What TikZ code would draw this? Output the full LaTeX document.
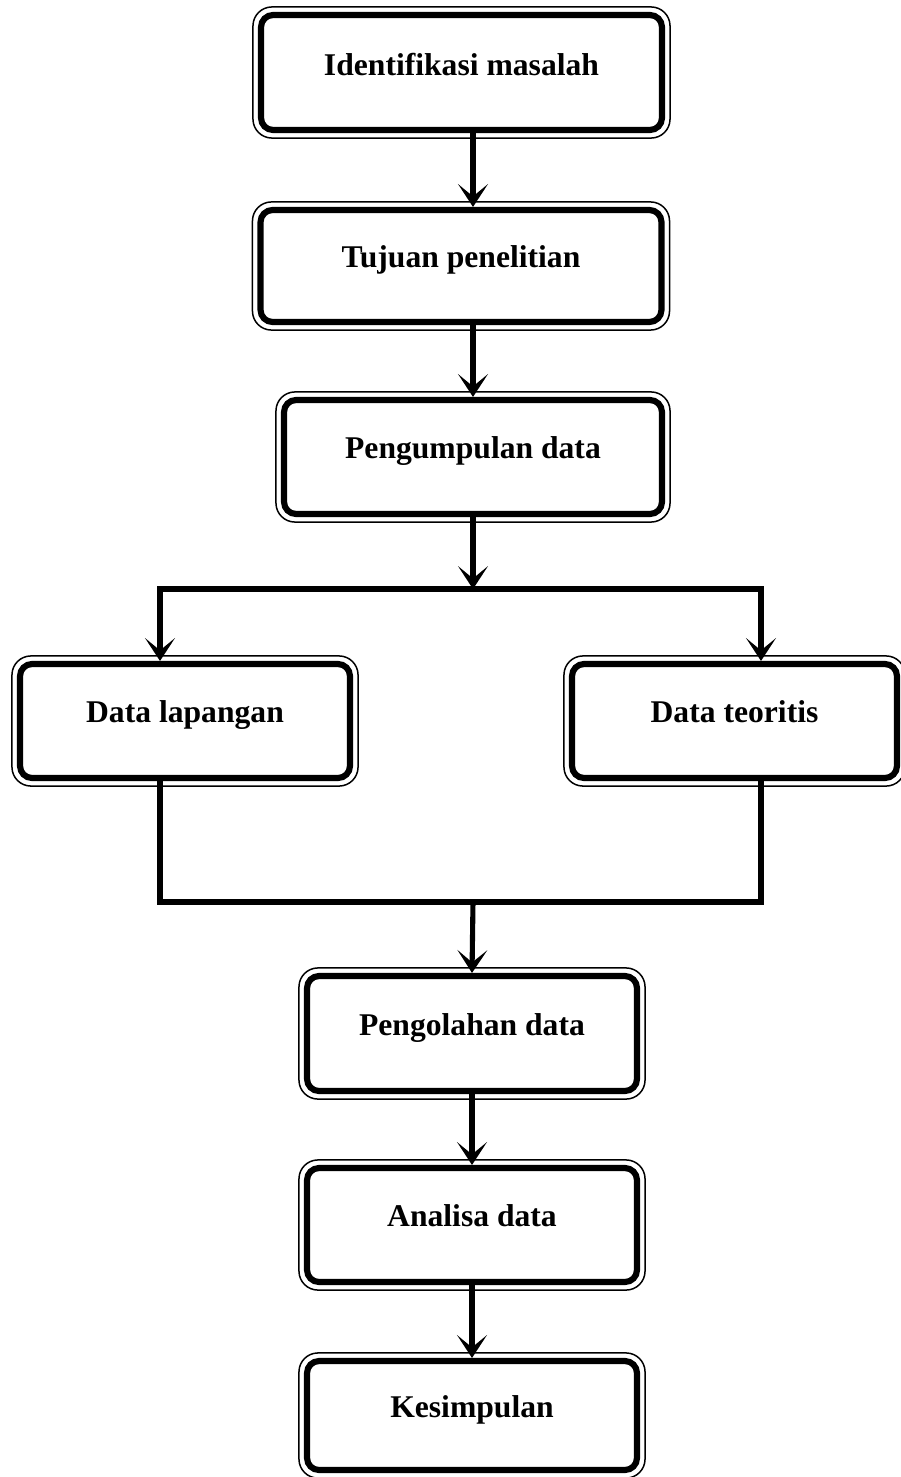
\documentclass[tikz,border=0pt]{standalone}
\usepackage{fontspec}
\setmainfont{Liberation Serif}
\usetikzlibrary{arrows.meta}

\begin{document}
\begin{tikzpicture}[
    x=0.02cm, y=-0.02cm,
    proc/.style={
        draw,
        line width=3.5pt,
        rounded corners=0.24cm,
        minimum width=#1,
        minimum height=2.28cm,
        inner sep=0pt,
        font=\fontsize{18}{22}\selectfont\bfseries,
        text height=0.7em,
        text depth=0.48em,
    },
    proc/.default=6.6cm,
    frame/.style={draw, line width=0.85pt, rounded corners=0.38cm},
    flow/.style={line width=2.9pt, -{Stealth[length=13pt, width=17pt, inset=7pt]}},
    wire/.style={line width=2.9pt},
]
\useasboundingbox (0,0) rectangle (900,1477);

\node[proc=8.02cm, minimum height=2.3cm, text depth=0.36em] (idm) at (461.5, 72.5) {Identifikasi masalah};
\node[proc=8.02cm, minimum height=2.24cm] (tuj) at (461, 266) {Tujuan penelitian};
\node[proc=7.56cm] (pgd) at (473, 457) {Pengumpulan data};
\node[proc] (dlap) at (185, 721) {Data lapangan};
\node[proc=6.5cm] (dteo) at (734.5, 721) {Data teoritis};
\node[proc, minimum height=2.3cm] (pol) at (472, 1033.5) {Pengolahan data};
\node[proc] (ana) at (472, 1225) {Analisa data};
\node[proc, minimum height=2.18cm] (kes) at (472, 1415.5) {Kesimpulan};

\foreach \n in {idm,tuj,pgd,dlap,dteo,pol,ana,kes}
    \draw[frame] ([shift={(-0.1cm,0.1cm)}]\n.north west) rectangle ([shift={(0.1cm,-0.1cm)}]\n.south east);

\coordinate (split) at (473,589);
\coordinate (splitL) at (160,589);
\coordinate (splitR) at (761,589);
\coordinate (joinL) at (160,902);
\coordinate (joinR) at (761,902);
\coordinate (join) at (473,902);

\draw[flow] (idm.south -| pgd) -- (tuj.north -| pgd);
\draw[flow] (tuj.south -| pgd) -- (pgd.north);
\draw[flow] (pgd.south) -- (split);
\draw[flow] (splitR) -- (splitL) -- (splitL |- dlap.north);
\draw[flow] (splitL) -- (splitR) -- (splitR |- dteo.north);
\draw[wire] (dlap.south -| joinL) -- (joinL) -- (joinR) -- (dteo.south -| joinR);
\draw[flow] (join) -- (pol.north);
\draw[flow] (pol.south) -- (ana.north);
\draw[flow] (ana.south) -- (kes.north);

\end{tikzpicture}
\end{document}
